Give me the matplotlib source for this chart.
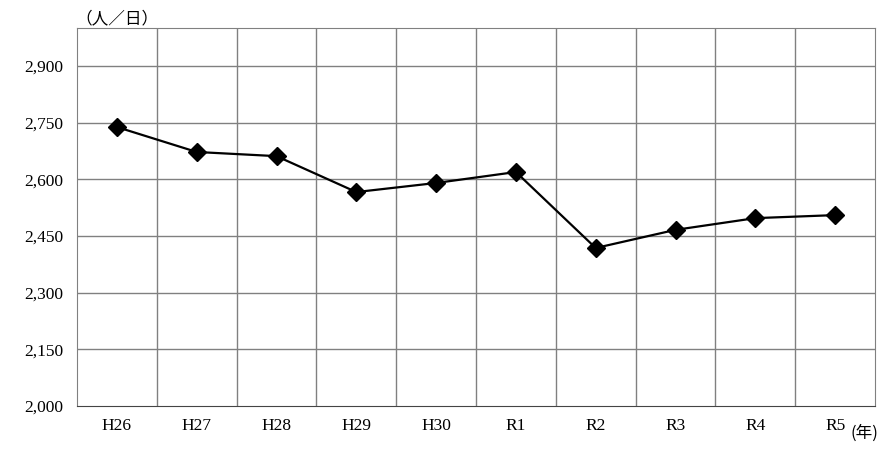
import matplotlib.pyplot as plt

# data
years = ['H26', 'H27', 'H28', 'H29', 'H30', 'R1', 'R2', 'R3', 'R4', 'R5']
values = [2738, 2672, 2661, 2566, 2590, 2619, 2418, 2466, 2497, 2505]
yticks = [2000, 2150, 2300, 2450, 2600, 2750, 2900]

plt.rcParams['font.family'] = ['Liberation Serif', 'Noto Sans CJK JP']

fig = plt.figure(figsize=(8.9, 4.49), dpi=100)
ax = fig.add_axes([77 / 890, 43 / 449, 798 / 890, 378 / 449])

x = list(range(len(years)))
ax.plot(x, values, color='black', linewidth=1.6, marker='D', markersize=9,
        zorder=3)

ax.set_xlim(-0.5, len(years) - 0.5)
ax.set_ylim(2000, 3000)

# vertical grid at category boundaries
for b in range(1, len(years)):
    ax.axvline(b - 0.5, color='#808080', linewidth=1, zorder=1)
for t in yticks[1:]:
    ax.axhline(t, color='#808080', linewidth=1, zorder=1)

ax.set_xticks(x)
ax.set_xticklabels(years, fontsize=12.5)
ax.set_yticks(yticks)
ax.set_yticklabels([f'{v:,}' for v in yticks], fontsize=12.5)
ax.tick_params(length=0, pad=9)
ax.tick_params(axis='y', pad=10)

for side in ['top', 'right', 'left']:
    ax.spines[side].set_color('#808080')
ax.spines['bottom'].set_color('#444444')

fig.text(75 / 890, 1 - 19 / 449, '（人／日）', fontsize=12,
         family=['Noto Sans CJK JP'], va='center', ha='left')
fig.text(850 / 890, 1 - 433 / 449, '(年)', fontsize=12,
         family=['Noto Sans CJK JP'], va='center', ha='left')

fig.savefig('out.png', dpi=100)
